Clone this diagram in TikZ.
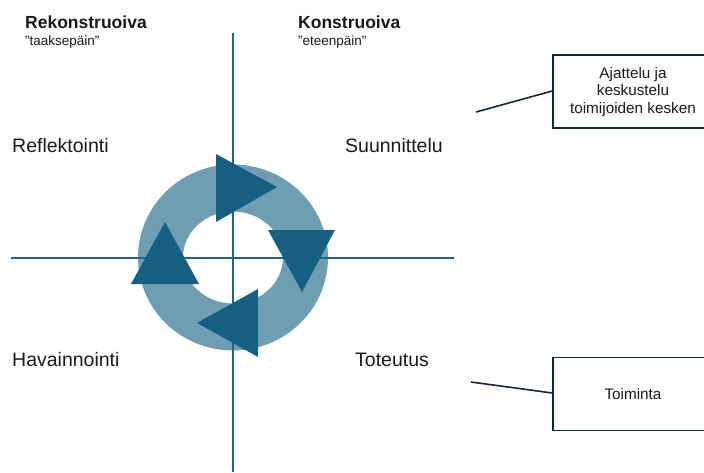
\documentclass[tikz,border=0pt]{standalone}
\usepackage{fontspec}
\setmainfont{Liberation Sans}
\definecolor{ringc}{RGB}{110,157,180}
\definecolor{tric}{RGB}{21,96,130}
\definecolor{axisc}{RGB}{34,100,135}
\definecolor{boxc}{RGB}{14,40,65}
\definecolor{txt}{RGB}{25,25,25}
\tikzset{
  lbl/.style={anchor=base west, inner sep=0pt, text=txt, font=\fontsize{19.5}{23}\selectfont},
  head/.style={anchor=base west, inner sep=0pt, text=txt, font=\bfseries\fontsize{17.5}{21}\selectfont},
  sub/.style={anchor=base west, inner sep=0pt, text=txt, font=\fontsize{13.5}{16}\selectfont},
  notebox/.style={draw=boxc, line width=1.5pt, minimum width=160pt, minimum height=73pt, inner sep=0pt},
  notetxt/.style={align=center, text=txt, font=\fontsize{15.3}{17.8}\selectfont, inner sep=0pt},
  axis/.style={draw=axisc, line width=1.6pt},
  lead/.style={draw=boxc, line width=1.6pt},
  tri/.style={fill=tric, draw=none}
}
\begin{document}
\begin{tikzpicture}[x=1pt,y=-1pt]
\useasboundingbox (0,0) rectangle (704,472);
\begin{scope}
\clip (0,0) rectangle (704,472);
% ring
\fill[ringc, even odd rule] (233,257.5) ellipse [x radius=95, y radius=93]
  (233,257.5) ellipse [x radius=50, y radius=46];
% axes
\coordinate (vt) at (233,33);
\coordinate (vb) at (233,472);
\coordinate (hl) at (11,258);
\coordinate (hr) at (454,258);
\draw[axis] (vt) -- (vb);
\draw[axis] (hl) -- (hr);
% triangles
\fill[tri] (216,154) -- (277,187) -- (216,222) -- cycle;
\fill[tri] (268,230) -- (335,230) -- (302,292) -- cycle;
\fill[tri] (258,289) -- (258,357) -- (197,323) -- cycle;
\fill[tri] (131,284) -- (199,284) -- (165,222) -- cycle;
% headers
\node[head] (rek) at (25,28) {Rekonstruoiva};
\node[sub] (taa) at (25,45) {”taaksepäin”};
\node[head] (kon) at (298,28) {Konstruoiva};
\node[sub] (ete) at (298,45) {”eteenpäin”};
% quadrant labels
\node[lbl] (refl) at (12,152) {Reflektointi};
\node[lbl] (suun) at (345,152) {Suunnittelu};
\node[lbl] (hav) at (12,366) {Havainnointi};
\node[lbl] (tot) at (355,366) {Toteutus};
% boxes
\node[notebox] (b1) at (633,91.5) {};
\node[notetxt] (b1t) at (633,92) {Ajattelu ja\\keskustelu\\toimijoiden kesken};
\node[notebox] (b2) at (633,394) {};
\node[notetxt] (b2t) at (633,394) {Toiminta};
\coordinate (l1) at (476,112);
\coordinate (l2) at (471,382);
\draw[lead] (l1) -- (b1.west |- 0,91);
\draw[lead] (l2) -- (b2.west |- 0,393);
\end{scope}
\end{tikzpicture}
\end{document}
